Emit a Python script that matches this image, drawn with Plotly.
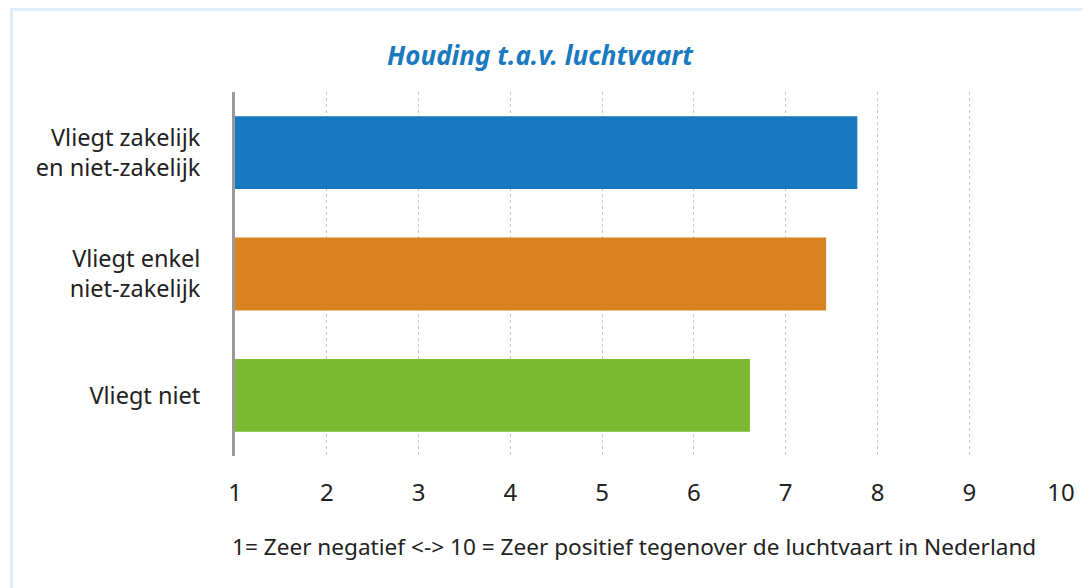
import plotly.graph_objects as go

categories = ["Vliegt zakelijk<br>en niet-zakelijk", "Vliegt enkel<br>niet-zakelijk", "Vliegt niet"]
values = [7.78, 7.44, 6.61]
colors = ["#1879c0", "#d98221", "#7ab930"]
tick_vals = [1, 2, 3, 4, 5, 6, 7, 8, 9, 10]
base_value = 1
title_text = "Houding t.a.v. luchtvaart"
footer_text = "1= Zeer negatief <-> 10 = Zeer positief tegenover de luchtvaart in Nederland"

# The page body has an 8px margin; the figure is sized/placed to compensate.
OFF = 8
W, H = 1090 - OFF, 588 - OFF
PL, PR, PT, PB = 235, 1062, 92, 456  # plot area in page pixels

fig = go.Figure()
fig.add_trace(go.Bar(
    y=categories,
    x=[v - base_value for v in values],
    base=base_value,
    orientation="h",
    marker=dict(color=colors, line=dict(width=0)),
    hoverinfo="skip",
))

font_family = "Noto Sans, Open Sans, sans-serif"
txt = "#222222"

fig.update_layout(
    width=W, height=H,
    margin=dict(l=PL - OFF, r=1090 - PR, t=PT - OFF, b=588 - PB, autoexpand=False),
    paper_bgcolor="white", plot_bgcolor="white",
    bargap=0.4,
    showlegend=False,
    font=dict(family=font_family, color=txt, size=23),
    title=dict(
        text="<b><i>" + title_text + "</i></b>",
        x=(540 - OFF) / W, xanchor="center", xref="container",
        y=1 - (56 - OFF) / H, yanchor="middle", yref="container",
        font=dict(family=font_family, size=26, color="#1a7ac0"),
    ),
    xaxis=dict(
        range=[1, 10.01],
        tickvals=tick_vals,
        ticktext=[str(t) for t in tick_vals],
        showgrid=True, gridcolor="#c8c8c8", griddash="dot", gridwidth=1,
        zeroline=False, showline=False,
        ticks="", ticklabelstandoff=20,
        tickfont=dict(size=24, color=txt),
        fixedrange=True,
    ),
    yaxis=dict(
        categoryorder="array", categoryarray=categories,
        autorange="reversed",
        showgrid=False, zeroline=False,
        showline=True, linecolor="#9a9a9a", linewidth=3,
        ticks="", ticklabelstandoff=27,
        tickfont=dict(size=23.5, color=txt),
        fixedrange=True,
    ),
)

pw, ph = PR - PL, PB - PT

# footer caption
fig.add_annotation(
    text=footer_text, showarrow=False,
    xref="paper", yref="paper",
    x=(230 - PL) / pw, xanchor="left",
    y=(PB - 546) / ph, yanchor="middle",
    font=dict(size=22.6, color=txt, family=font_family),
)

# light blue frame around the chart (extends past the right/bottom edge)
fig.add_shape(
    type="rect", xref="paper", yref="paper",
    x0=(11.5 - PL) / pw, x1=(1110 - PL) / pw,
    y0=(PB - 620) / ph, y1=(PB - 9.5) / ph,
    line=dict(color="#e0eef9", width=3), fillcolor="rgba(0,0,0,0)",
    layer="below",
)

fig.write_html("out.html")
